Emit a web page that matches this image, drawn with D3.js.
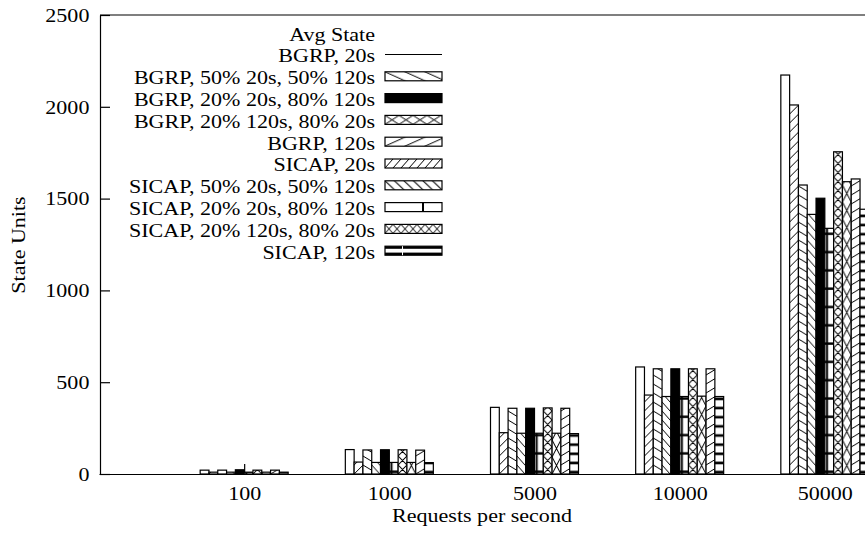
<!DOCTYPE html>
<html>
<head>
<meta charset="utf-8">
<script src="https://d3js.org/d3.v7.min.js"></script>
<style>
  body { margin: 0; background: #fff; }
  svg { display: block; }
  text { font-family: "Liberation Serif", "Times New Roman", serif; font-size: 19.5px; fill: #000; }
</style>
</head>
<body>
<svg id="chart" width="865" height="535"></svg>
<script>
// categories on the x axis (requests per second)
var categories = ["100", "1000", "5000", "10000", "50000"];
var yTicks = [0, 500, 1000, 1500, 2000, 2500];

// series values, one per category
var bgrp20 = [21, 133, 363, 583, 2173];
var sicap20 = [10, 65, 225, 430, 2010];
var bgrp5050 = [21, 131, 358, 573, 1574];
var sicap5050 = [10, 63, 222, 422, 1414];
var bgrp2080 = [23, 132, 358, 573, 1502];
var sicap2080 = [10, 63, 222, 422, 1338];
var bgrpRev = [21, 132, 360, 573, 1755];
var sicapRev = [10, 63, 222, 424, 1592];
var bgrp120 = [21, 130, 358, 573, 1607];
var sicap120 = [10, 62, 220, 422, 1442];

var series = [
  { key: "b20", name: "BGRP, 20s", values: bgrp20 },
  { key: "b5050", name: "BGRP, 50% 20s, 50% 120s", values: bgrp5050 },
  { key: "b2080", name: "BGRP, 20% 20s, 80% 120s", values: bgrp2080 },
  { key: "brev", name: "BGRP, 20% 120s, 80% 20s", values: bgrpRev },
  { key: "b120", name: "BGRP, 120s", values: bgrp120 },
  { key: "s20", name: "SICAP, 20s", values: sicap20 },
  { key: "s5050", name: "SICAP, 50% 20s, 50% 120s", values: sicap5050 },
  { key: "s2080", name: "SICAP, 20% 20s, 80% 120s", values: sicap2080 },
  { key: "srev", name: "SICAP, 20% 120s, 80% 20s", values: sicapRev },
  { key: "s120", name: "SICAP, 120s", values: sicap120 }
];
// order of the bars inside each cluster
var barOrder = ["b20", "s20", "b5050", "s5050", "b2080", "s2080", "brev", "srev", "b120", "s120"];

var svg = d3.select("#chart");
var defs = svg.append("defs");

var x = d3.scaleLinear().domain([-1, 5]).range([99, 970]);
var y = d3.scaleLinear().domain([0, 2500]).range([474, 15]);
var inner = d3.scaleBand().domain(barOrder).range([-44, 44]).padding(0);
var bw = inner.bandwidth();

// the source figure's lettering is a bit wider than plain Times
var stretchX = 1.13;
function stretch(sel) {
  sel.each(function () {
    var t = d3.select(this);
    var tx = +t.attr("x") || 0, ty = +t.attr("y") || 0;
    var pre = t.attr("transform") || ("translate(" + tx + "," + ty + ")");
    t.attr("x", null).attr("y", null)
      .attr("transform", pre + " scale(" + stretchX + ",1)");
  });
}

// hatch type and tile size for bars and legend boxes
var hatchKind = { b5050: "\\", s5050: "\\", s20: "/", b120: "/", brev: "x", srev: "x" };
var barTile = { b5050: [15, 9], s5050: [8, 9], s20: [9, 9], b120: [15, 9], brev: [bw, 9], srev: [bw, 17] };
var legTile = { b5050: [20, 9], s5050: [9.5, 9], s20: [8, 9], b120: [20, 9], brev: [14, 9], srev: [8, 9] };

function hatchPath(dir, w, h) {
  var fwd = "M0," + h + "L" + w + ",0M" + (-w) + "," + h + "L" + w + "," + (-h) +
    "M0," + (2 * h) + "L" + (2 * w) + ",0";
  var back = "M0,0L" + w + "," + h + "M0," + (-h) + "L" + (2 * w) + "," + h +
    "M" + (-w) + ",0L" + w + "," + (2 * h);
  if (dir === "/") return fwd;
  if (dir === "\\") return back;
  return fwd + back;
}

function makePattern(id, key, x0, y0, legend) {
  var w, h;
  if (key === "s2080") { w = bw; h = 18.3; }
  else if (key === "s120") { w = bw; h = 9.15; }
  else { var t = legend ? legTile[key] : barTile[key]; w = t[0]; h = t[1]; }
  var p = defs.append("pattern")
    .attr("id", id)
    .attr("patternUnits", "userSpaceOnUse")
    .attr("x", x0).attr("y", y0)
    .attr("width", w).attr("height", h);
  p.append("rect").attr("width", w).attr("height", h).attr("fill", "#fff");
  if (key === "s2080") {
    p.append("rect").attr("x", 0).attr("y", h - 3.5).attr("width", w).attr("height", 2.4).attr("fill", "#000");
    p.append("rect").attr("x", 1.2).attr("y", 0).attr("width", 2).attr("height", h).attr("fill", "#000");
  } else if (key === "s120") {
    p.append("rect").attr("x", 0).attr("y", h - 3.2).attr("width", w).attr("height", 2.6).attr("fill", "#000");
  } else {
    p.append("path")
      .attr("d", hatchPath(hatchKind[key], w, h))
      .attr("fill", "none")
      .attr("stroke", "#000")
      .attr("stroke-width", 1);
  }
  return "url(#" + id + ")";
}

function barFill(key, ci, bx) {
  if (key === "b20") return "#fff";
  if (key === "b2080") return "#000";
  return makePattern("p-" + key + "-" + ci, key, bx, y(0), false);
}

// axes first, so the bars cover the x tics
var yAxis = svg.append("g")
  .attr("transform", "translate(100,0)")
  .call(d3.axisLeft(y)
    .tickValues(yTicks)
    .tickFormat(d3.format("d"))
    .tickSizeInner(-10).tickSizeOuter(0).tickPadding(10.6));

var xAxis = svg.append("g")
  .attr("transform", "translate(0,474)")
  .call(d3.axisBottom(x)
    .tickValues(d3.range(categories.length))
    .tickFormat(function (i) { return categories[i]; })
    .tickSizeInner(-10).tickSizeOuter(0).tickPadding(12));

[yAxis, xAxis].forEach(function (g) {
  g.selectAll("path, line").attr("stroke", "#000").attr("stroke-width", 1.2);
  g.selectAll("text")
    .style("font-family", "'Liberation Serif', 'Times New Roman', serif")
    .style("font-size", "19.5px")
    .attr("fill", "#000")
    .call(stretch);
});

svg.append("line")
  .attr("x1", 100).attr("x2", 865)
  .attr("y1", y(2500)).attr("y2", y(2500))
  .attr("stroke", "#000").attr("stroke-width", 1.2);

// bars
var byKey = {};
series.forEach(function (s) { byKey[s.key] = s; });

barOrder.forEach(function (key) {
  var s = byKey[key];
  svg.append("g").selectAll("rect")
    .data(s.values)
    .enter()
    .append("rect")
    .attr("x", function (d, i) { return x(i) + inner(key); })
    .attr("y", function (d) { return y(d); })
    .attr("width", bw)
    .attr("height", function (d) { return y(0) - y(d); })
    .attr("fill", function (d, i) { return barFill(key, i, x(i) + inner(key)); })
    .attr("stroke", "#000")
    .attr("stroke-width", 1.2);
});

// legend
var legX = 375, boxX = 385, boxW = 57, boxH = 9;
var legRow = function (i) { return 55.5 + 21.8 * i; };

svg.append("text")
  .attr("x", legX).attr("y", legRow(-1))
  .attr("dy", "0.35em")
  .attr("text-anchor", "end")
  .text("Avg State")
  .call(stretch);

series.forEach(function (s, i) {
  var cy = legRow(i);
  svg.append("text")
    .attr("x", legX).attr("y", cy)
    .attr("dy", "0.35em")
    .attr("text-anchor", "end")
    .text(s.name)
    .call(stretch);

  if (s.key === "b20") {
    svg.append("line")
      .attr("x1", boxX).attr("x2", boxX + boxW)
      .attr("y1", cy - 1).attr("y2", cy - 1)
      .attr("stroke", "#000").attr("stroke-width", 1.2);
    return;
  }
  var top = cy - boxH / 2 - 1;
  var fill;
  if (s.key === "b2080") fill = "#000";
  else if (s.key === "s2080" || s.key === "s120") fill = "#fff";
  else fill = makePattern("leg-" + s.key, s.key, boxX, top, true);

  svg.append("rect")
    .attr("x", boxX).attr("y", top)
    .attr("width", boxW).attr("height", boxH)
    .attr("fill", fill)
    .attr("stroke", "#000").attr("stroke-width", 1.2);

  if (s.key === "s2080") {
    svg.append("rect")
      .attr("x", boxX + 37).attr("y", top)
      .attr("width", 2).attr("height", boxH)
      .attr("fill", "#000");
  }
  if (s.key === "s120") {
    svg.append("rect").attr("x", boxX).attr("y", top).attr("width", boxW).attr("height", 2.6).attr("fill", "#000");
    svg.append("rect").attr("x", boxX).attr("y", top + boxH - 2.6).attr("width", boxW).attr("height", 2.6).attr("fill", "#000");
    svg.append("rect").attr("x", boxX + 17).attr("y", top).attr("width", 1).attr("height", boxH).attr("fill", "#fff");
  }
});

// axis titles
svg.append("text")
  .attr("transform", "translate(18,245) rotate(-90)")
  .attr("dy", "0.35em")
  .attr("text-anchor", "middle")
  .text("State Units")
  .call(stretch);

svg.append("text")
  .attr("x", 482).attr("y", 522)
  .attr("text-anchor", "middle")
  .text("Requests per second")
  .call(stretch);
</script>
</body>
</html>
